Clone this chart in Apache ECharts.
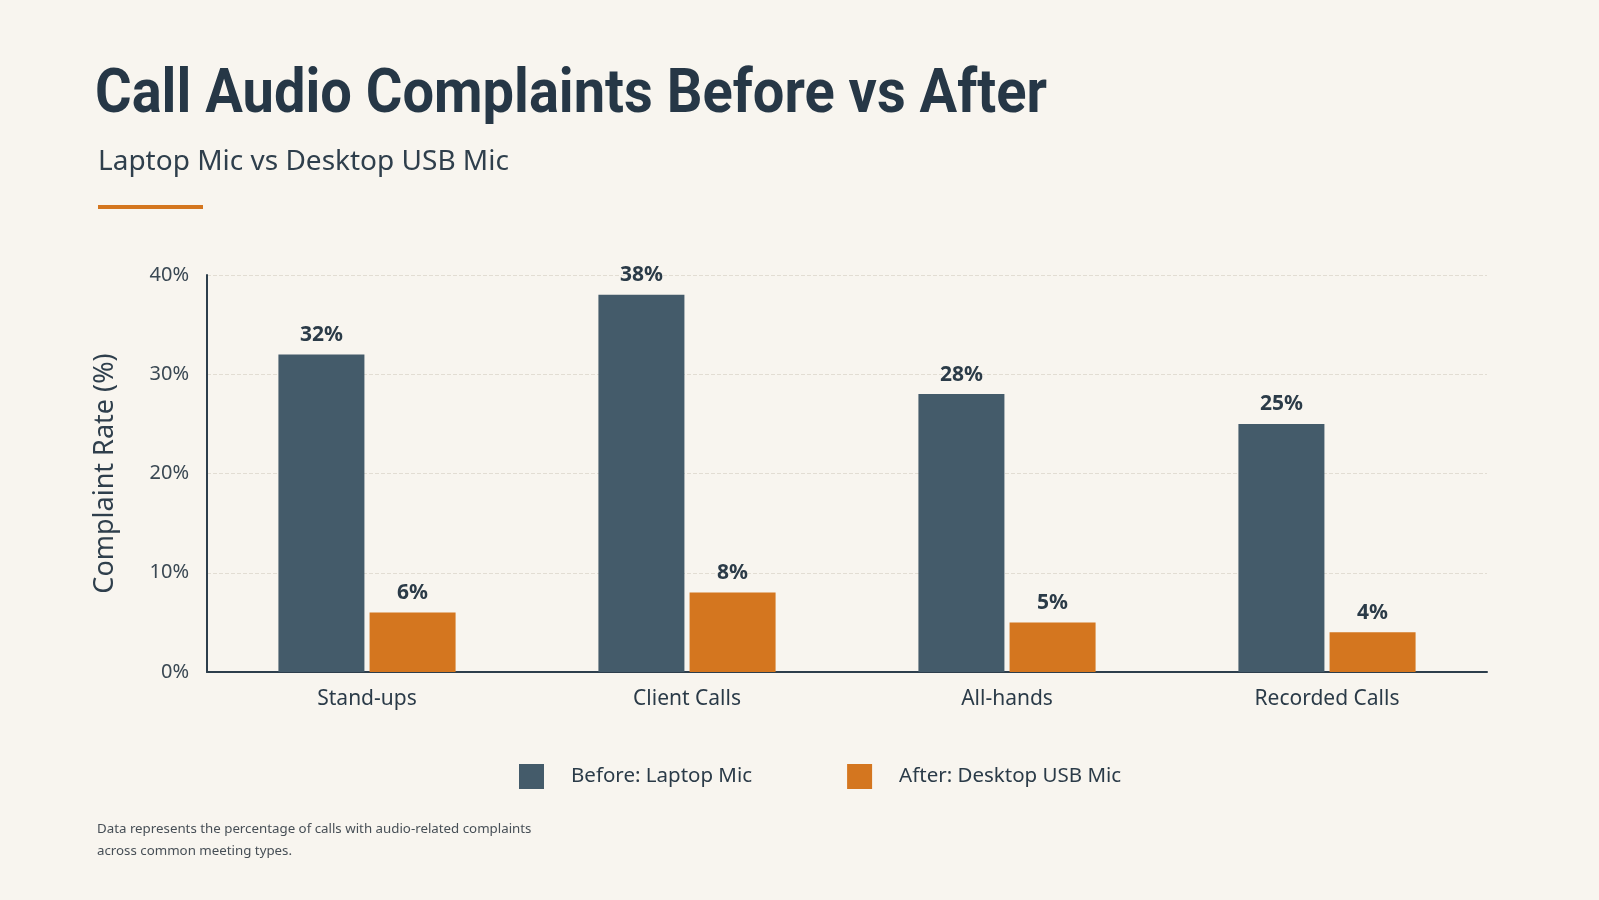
<!DOCTYPE html>
<html>
<head>
<meta charset="utf-8">
<script src="https://cdn.jsdelivr.net/npm/echarts@6/dist/echarts.min.js"></script>
<style>
  html, body { margin: 0; padding: 0; background: #f8f5ef; }
  #chart { width: 1599px; height: 900px; }
</style>
</head>
<body>
<div id="chart"></div>
<script>
const categories = ['Stand-ups', 'Client Calls', 'All-hands', 'Recorded Calls']
const beforeValues = [32, 38, 28, 25]
const afterValues = [6, 8, 5, 4]
const seriesNames = ['Before: Laptop Mic', 'After: Desktop USB Mic']
const titleText = 'Call Audio Complaints Before vs After'
const footnoteLines = [
  'Data represents the percentage of calls with audio-related complaints',
  'across common meeting types.',
]

const textFont = "'Noto Sans', 'Open Sans', sans-serif"
const titleFontCss = "bold 62px Roboto, 'Noto Sans', sans-serif"
const darkText = '#2b3b48'
const slate = '#445b6a'
const orange = '#d4761f'

// the title in the reference is a condensed face, so squeeze Roboto to the same width
const measureCtx = document.createElement('canvas').getContext('2d')
measureCtx.font = titleFontCss
const titleScale = 952 / measureCtx.measureText(titleText).width

const chart = echarts.init(document.getElementById('chart'))

function barLabel() {
  return {
    show: true,
    position: 'top',
    distance: 9,
    formatter: '{c}%',
    color: darkText,
    fontFamily: textFont,
    fontWeight: 'bold',
    fontSize: 21,
  }
}

chart.setOption({
  backgroundColor: '#f8f5ef',
  title: [
    {
      text: 'Laptop Mic vs Desktop USB Mic',
      left: 93,
      top: 143,
      textStyle: { fontFamily: textFont, fontWeight: 'normal', fontSize: 28, color: '#2f3f4c' },
    },
    {
      text: footnoteLines.join('\n'),
      left: 92,
      top: 813,
      textStyle: { fontFamily: textFont, fontWeight: 'normal', fontSize: 13.3, lineHeight: 22, color: '#474f56' },
    },
  ],
  graphic: [
    {
      type: 'text',
      x: 95,
      y: 96,
      scaleX: titleScale,
      style: {
        text: titleText,
        font: titleFontCss,
        fill: '#263746',
        textVerticalAlign: 'middle',
      },
    },
    { type: 'rect', left: 98, top: 205, shape: { width: 105, height: 4 }, style: { fill: orange } },
  ],
  legend: {
    data: seriesNames,
    bottom: 106,
    left: 514,
    icon: 'rect',
    itemWidth: 25,
    itemHeight: 25,
    itemGap: 95,
    textStyle: {
      fontFamily: textFont,
      fontSize: 20.5,
      color: darkText,
      padding: [0, 0, 0, 22],
    },
  },
  grid: {
    left: 207,
    right: 112,
    top: 275,
    bottom: 228,
  },
  xAxis: {
    type: 'category',
    data: categories,
    axisTick: { show: false },
    axisLine: { lineStyle: { color: '#2d3e4c', width: 2 } },
    axisLabel: { color: darkText, fontFamily: textFont, fontSize: 21, margin: 17 },
  },
  yAxis: {
    type: 'value',
    min: 0,
    max: 40,
    interval: 10,
    name: 'Complaint Rate (%)',
    nameLocation: 'middle',
    nameGap: 88,
    nameTextStyle: { fontFamily: textFont, fontSize: 27, color: '#2f3f4c' },
    axisLine: { show: true, lineStyle: { color: '#2d3e4c', width: 2 } },
    axisTick: { show: false },
    axisLabel: { formatter: '{value}%', color: '#3a4853', fontFamily: textFont, fontSize: 20, margin: 18 },
    splitLine: { lineStyle: { color: '#e2ddd3', type: 'dashed', width: 1 } },
  },
  series: [
    {
      name: seriesNames[0],
      type: 'bar',
      data: beforeValues,
      barWidth: 86,
      barGap: '6%',
      itemStyle: { color: slate },
      label: barLabel(),
    },
    {
      name: seriesNames[1],
      type: 'bar',
      data: afterValues,
      barWidth: 86,
      itemStyle: { color: orange },
      label: barLabel(),
    },
  ],
})
</script>
</body>
</html>
